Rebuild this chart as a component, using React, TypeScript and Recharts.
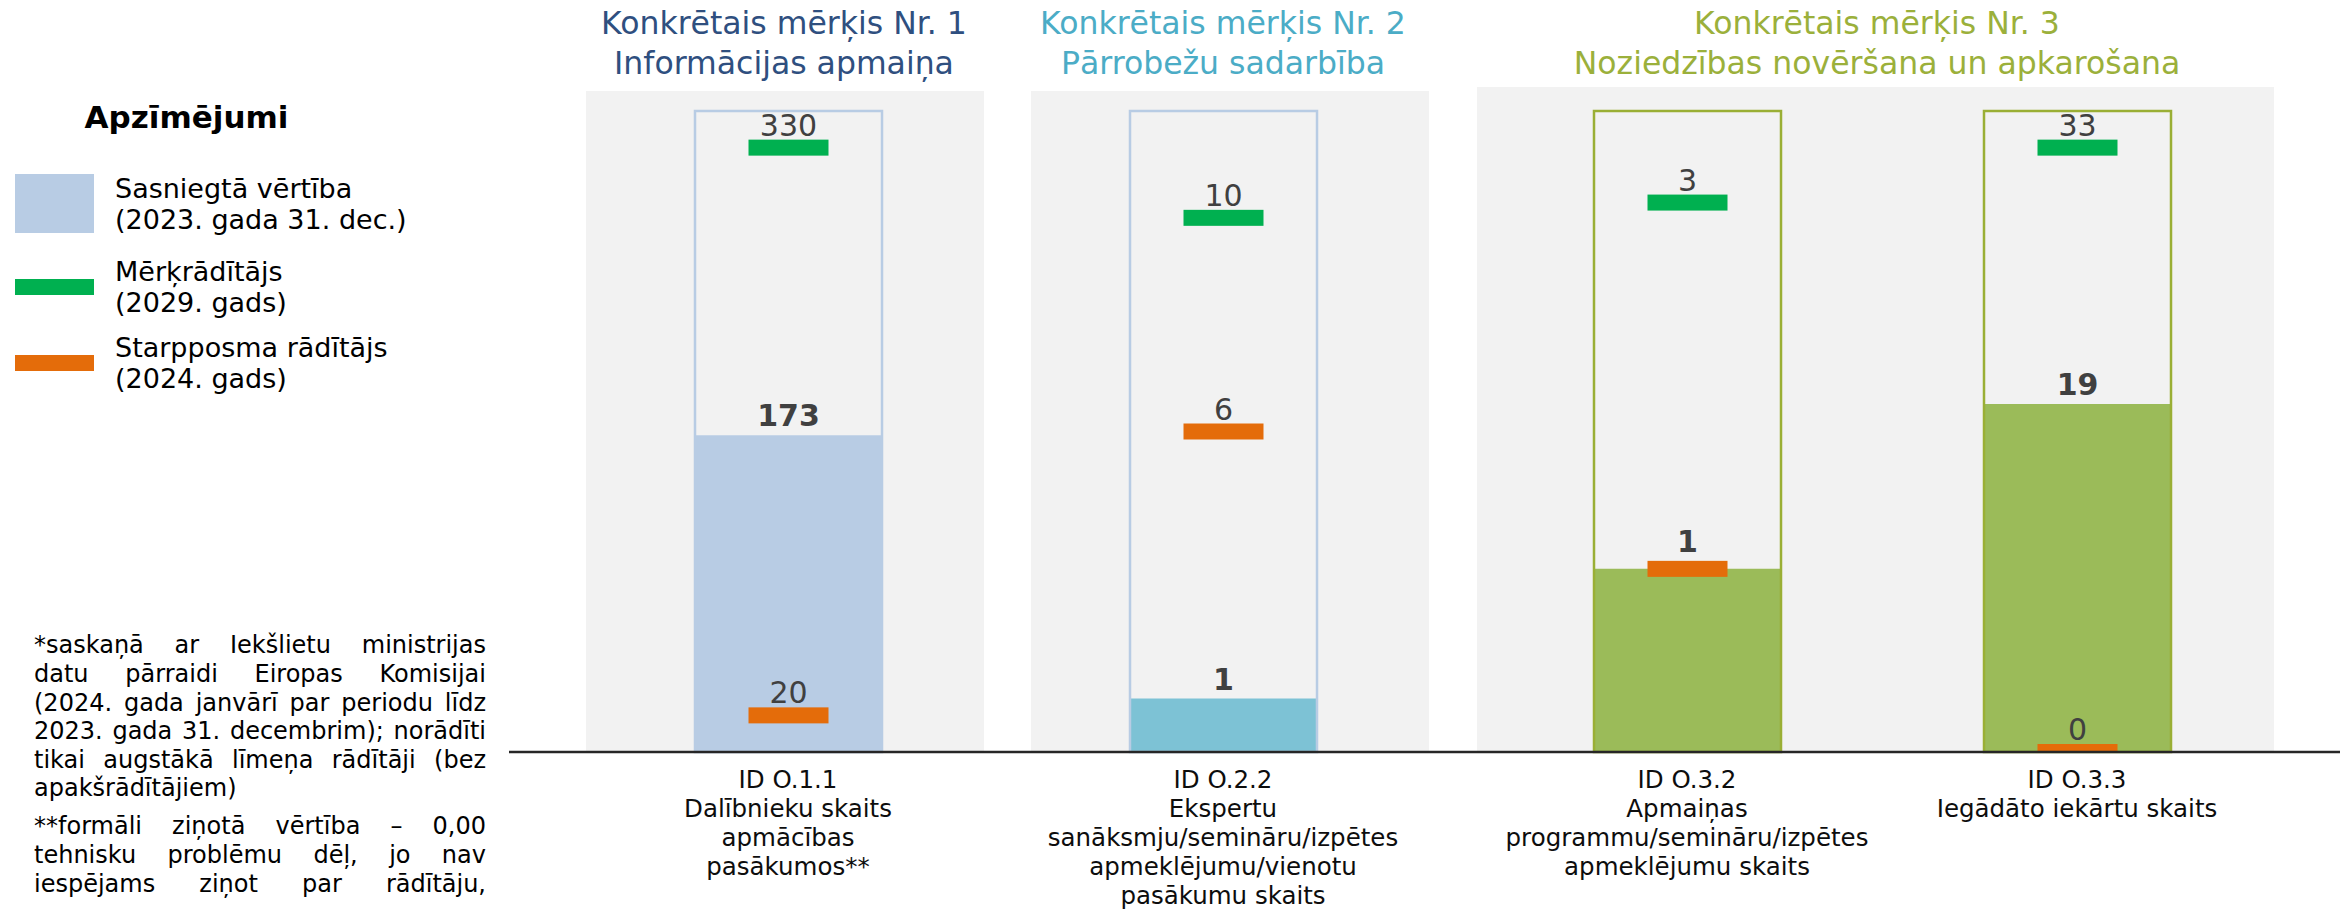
import React from 'react';
import { BarChart, Bar, XAxis, YAxis, ReferenceArea, LabelList } from 'recharts';

// ---------- data ----------
const indicatorIds = ['O.1.1', 'O.2.2', 'O.3.2', 'O.3.3'];
const objectiveOf = [1, 2, 3, 3];
const achieved2023 = [173, 1, 1, 19];
const target2029 = [330, 10, 3, 33];
const milestone2024 = [20, 6, 1, 0];
const scaleMax = [350, 12, 3.5, 35];

const indicatorLabels: string[][] = [
  ['ID O.1.1', 'Dalībnieku skaits', 'apmācības', 'pasākumos**'],
  ['ID O.2.2', 'Ekspertu', 'sanāksmju/semināru/izpētes', 'apmeklējumu/vienotu', 'pasākumu skaits'],
  ['ID O.3.2', 'Apmaiņas', 'programmu/semināru/izpētes', 'apmeklējumu skaits'],
  ['ID O.3.3', 'Iegādāto iekārtu skaits'],
];

const objectiveTitles: string[][] = [
  ['Konkrētais mērķis Nr. 1', 'Informācijas apmaiņa'],
  ['Konkrētais mērķis Nr. 2', 'Pārrobežu sadarbība'],
  ['Konkrētais mērķis Nr. 3', 'Noziedzības novēršana un apkarošana'],
];

const legendTitle = 'Apzīmējumi';
const legendItems: string[][] = [
  ['Sasniegtā vērtība', '(2023. gada 31. dec.)'],
  ['Mērķrādītājs', '(2029. gads)'],
  ['Starpposma rādītājs', '(2024. gads)'],
];

const footnote1: string[] = [
  '*saskaņā ar Iekšlietu ministrijas',
  'datu pārraidi Eiropas Komisijai',
  '(2024. gada janvārī par periodu līdz',
  '2023. gada 31. decembrim); norādīti',
  'tikai augstākā līmeņa rādītāji (bez',
  'apakšrādītājiem)',
];
const footnote2: string[] = [
  '**formāli ziņotā vērtība – 0,00',
  'tehnisku problēmu dēļ, jo nav',
  'iespējams ziņot par rādītāju,',
];

// ---------- derived table ----------
const rows = indicatorIds.map((id, i) => ({
  id,
  objective: objectiveOf[i],
  box: scaleMax[i] / scaleMax[i],
  achievedN: achieved2023[i] / scaleMax[i],
  targetN: target2029[i] / scaleMax[i],
  milestoneN: milestone2024[i] / scaleMax[i],
  achieved: achieved2023[i],
  target: target2029[i],
  milestoneAtTop: milestone2024[i] === achieved2023[i],
  milestoneLabel: milestone2024[i] !== achieved2023[i] ? milestone2024[i] : null,
}));
const labelsById: Record<string, string[]> = {};
indicatorIds.forEach((id, i) => (labelsById[id] = indicatorLabels[i]));

// ---------- styles / layout ----------
const FONT = "'DejaVu Sans', Verdana, sans-serif";
const W = 2349;
const H = 911;
const AXIS_H = 159;
const BOX_PX = 641;
const BAR_W = 187;
const MARKER_W = 80;
const MARKER_H = 16;
const GREEN = '#00B050';
const ORANGE = '#E46C0A';
const LABEL_GREY = '#404040';

const objectiveStyle: Record<number, { title: string; fill: string; stroke: string }> = {
  1: { title: '#2F4F7F', fill: '#B8CCE4', stroke: '#B8CCE4' },
  2: { title: '#4BACC6', fill: '#7DC2D5', stroke: '#B8CCE4' },
  3: { title: '#9BB03B', fill: '#9BBB59', stroke: '#9AAF35' },
};

const panelLayout: Record<number, any> = {
  1: { left: 509, width: 498, top: 91, titleX: 784, barPad: { left: 80, right: 20 }, panelPad: { left: 77, right: 23 } },
  2: { left: 1007, width: 446, top: 91, titleX: 1223, barPad: { left: 17, right: 31 }, panelPad: { left: 24, right: 24 } },
  3: { left: 1453, width: 887, top: 87, titleX: 1877, barPad: { left: 39, right: 68 }, panelPad: { left: 24, right: 66 } },
};

// ---------- shapes & labels ----------
const boxShape = (stroke: string) => (p: any) => {
  const { x, y, width, height } = p;
  if (x == null) return <g />;
  return <rect x={x} y={y} width={width} height={height} fill="none" stroke={stroke} strokeWidth={2.5} />;
};

const markerShape = (color: string) => (p: any) => {
  const { x, y, width, height } = p;
  if (x == null) return <g />;
  const cx = x + width / 2;
  const top = y - MARKER_H / 2;
  const bottom = Math.min(y + MARKER_H / 2, y + (height || 0));
  return <rect x={cx - MARKER_W / 2} y={top} width={MARKER_W} height={Math.max(0, bottom - top)} fill={color} />;
};

const makeLabel = (dy: number, bold: boolean, data?: any[]) => (p: any) => {
  const vb = p.viewBox || p;
  const x = p.x ?? vb.x;
  const y = p.y ?? vb.y;
  const width = p.width ?? vb.width;
  if (p.value == null || x == null) return null;
  let extra = 0;
  if (data && p.index != null && data[p.index] && data[p.index].milestoneAtTop) extra = -MARKER_H / 2;
  return (
    <text
      x={x + width / 2}
      y={y + dy + extra}
      textAnchor="middle"
      fontSize={30}
      fontWeight={bold ? 'bold' : 'normal'}
      fill={LABEL_GREY}
      fontFamily={FONT}
    >
      {p.value}
    </text>
  );
};
const markerLabel = makeLabel(-(MARKER_H / 2) - 4, false);

function IndicatorTick(props: any) {
  const { x, y, payload } = props;
  const lines = labelsById[payload.value] || [];
  return (
    <text x={x} y={y} textAnchor="middle" fontSize={24.5} fill="#0D0D0D" fontFamily={FONT}>
      {lines.map((l, i) => (
        <tspan key={i} x={x} y={y + 36 + i * 29}>
          {l}
        </tspan>
      ))}
    </text>
  );
}

function ObjectivePanel({ objective }: { objective: number }) {
  const L = panelLayout[objective];
  const st = objectiveStyle[objective];
  const data = rows.filter((r) => r.objective === objective);
  const plotH = H - L.top - AXIS_H;
  const yTop = plotH / BOX_PX;
  const achievedLabel = makeLabel(-9, true, data);
  return (
    <div style={{ position: 'absolute', left: L.left, top: 0 }}>
      <BarChart
        width={L.width}
        height={H}
        data={data}
        margin={{ top: L.top, right: 0, bottom: 0, left: 0 }}
        barSize={BAR_W}
        barGap={-BAR_W}
      >
        <XAxis xAxisId="panel" dataKey="id" hide padding={L.panelPad} />
        <XAxis
          xAxisId="bars"
          dataKey="id"
          padding={L.barPad}
          height={AXIS_H}
          tickSize={0}
          tickMargin={0}
          tickLine={false}
          interval={0}
          axisLine={{ stroke: '#262626', strokeWidth: 2.5 }}
          tick={<IndicatorTick />}
        />
        <YAxis hide domain={[0, yTop]} />
        <ReferenceArea
          xAxisId="panel"
          x1={data[0].id}
          x2={data[data.length - 1].id}
          fill="#F2F2F2"
          fillOpacity={1}
          stroke="none"
        />
        <Bar xAxisId="bars" dataKey="achievedN" fill={st.fill} isAnimationActive={false}>
          <LabelList dataKey="achieved" content={achievedLabel} />
        </Bar>
        <Bar xAxisId="bars" dataKey="box" shape={boxShape(st.stroke)} isAnimationActive={false} />
        <Bar xAxisId="bars" dataKey="milestoneN" shape={markerShape(ORANGE)} isAnimationActive={false}>
          <LabelList dataKey="milestoneLabel" content={markerLabel} />
        </Bar>
        <Bar xAxisId="bars" dataKey="targetN" shape={markerShape(GREEN)} isAnimationActive={false}>
          <LabelList dataKey="target" content={markerLabel} />
        </Bar>
      </BarChart>
    </div>
  );
}

const legendSwatches = [
  { color: '#B8CCE4', y: 174, h: 59 },
  { color: GREEN, y: 279, h: 16 },
  { color: ORANGE, y: 355, h: 16 },
];
const legendBaselines = [198, 281, 357];

function FootLine({ text, baseline, justify }: { text: string; baseline: number; justify: boolean }) {
  const lh = 28.6;
  return (
    <div
      style={{
        position: 'absolute',
        left: 34,
        top: baseline - 22.6,
        width: 452,
        height: lh,
        lineHeight: `${lh}px`,
        fontSize: 24,
        fontFamily: FONT,
        color: '#000',
        whiteSpace: 'nowrap',
        textAlign: justify ? 'justify' : 'left',
        textAlignLast: justify ? 'justify' : 'left',
      } as any}
    >
      {text}
    </div>
  );
}

export default function App() {
  return (
    <div
      style={{
        position: 'absolute',
        left: 0,
        top: 0,
        width: W,
        height: H,
        background: '#fff',
        overflow: 'hidden',
        fontFamily: FONT,
      }}
    >
      <svg width={W} height={H} style={{ position: 'absolute', left: 0, top: 0 }}>
        {[1, 2, 3].map((o) => (
          <text key={o} textAnchor="middle" fontSize={31.5} fill={objectiveStyle[o].title} fontFamily={FONT}>
            <tspan x={panelLayout[o].titleX} y={33.5}>
              {objectiveTitles[o - 1][0]}
            </tspan>
            <tspan x={panelLayout[o].titleX} y={74}>
              {objectiveTitles[o - 1][1]}
            </tspan>
          </text>
        ))}
        <text x={186.5} y={128} textAnchor="middle" fontSize={31} fontWeight="bold" fill="#000" fontFamily={FONT}>
          {legendTitle}
        </text>
        {legendItems.map((lines, i) => (
          <g key={i}>
            <rect x={15} y={legendSwatches[i].y} width={79} height={legendSwatches[i].h} fill={legendSwatches[i].color} />
            <text fontSize={27} fill="#000" fontFamily={FONT}>
              <tspan x={115} y={legendBaselines[i]}>
                {lines[0]}
              </tspan>
              <tspan x={115} y={legendBaselines[i] + 31}>
                {lines[1]}
              </tspan>
            </text>
          </g>
        ))}
      </svg>
      {[1, 2, 3].map((o) => (
        <ObjectivePanel key={o} objective={o} />
      ))}
      {footnote1.map((t, i) => (
        <FootLine key={'a' + i} text={t} baseline={654 + i * 28.6} justify={i < footnote1.length - 1} />
      ))}
      {footnote2.map((t, i) => (
        <FootLine key={'b' + i} text={t} baseline={835 + i * 28.6} justify={true} />
      ))}
    </div>
  );
}
